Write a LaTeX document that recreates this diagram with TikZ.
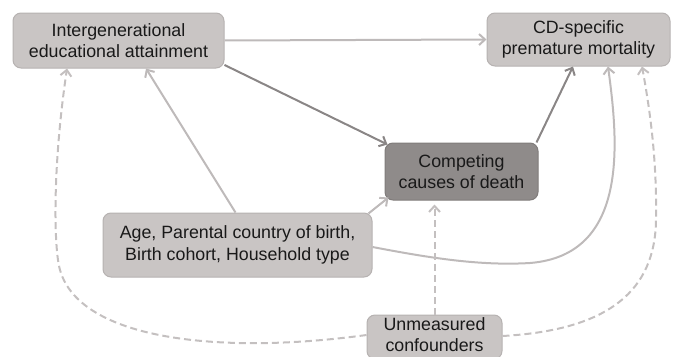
\documentclass[tikz,border=0pt]{standalone}
\usepackage{fontspec}
\setmainfont{Liberation Sans}
\usetikzlibrary{arrows.meta}
\definecolor{boxfill}{RGB}{201,197,196}
\definecolor{boxdraw}{RGB}{182,178,177}
\definecolor{darkfill}{RGB}{143,139,138}
\definecolor{darkdraw}{RGB}{128,124,123}
\definecolor{lightline}{RGB}{190,186,186}
\definecolor{darkline}{RGB}{138,134,134}
\definecolor{dashline}{RGB}{196,192,192}
\tikzset{
  box/.style={draw=boxdraw, fill=boxfill, line width=1pt, rounded corners=8pt,
    align=center, inner sep=0pt, text=black!90,
    font=\fontsize{17.8}{21.5}\selectfont},
  darkbox/.style={box, draw=darkdraw, fill=darkfill},
  tip/.style={-{Straight Barb[length=6pt,width=11pt,line width=2pt]}},
  lightarrow/.style={tip, draw=lightline, line width=2pt},
  darkarrow/.style={tip, draw=darkline, line width=2pt},
  dasharrow/.style={tip, draw=dashline, line width=2pt, dash pattern=on 7pt off 4pt},
}
\begin{document}
\begin{tikzpicture}[x=1pt,y=-1pt]
\useasboundingbox (0,0) rectangle (674,356);
\clip (0,0) rectangle (674,356);
\node[box, minimum width=211pt, minimum height=55pt] (A) at (118.5,40.5)
  {Intergenerational\\educational attainment};
\node[box, minimum width=183pt, minimum height=53pt] (B) at (578.5,39.5)
  {CD-specific\\premature mortality};
\node[darkbox, minimum width=153pt, minimum height=57pt] (C) at (461.5,171.5)
  {Competing\\causes of death};
\node[box, minimum width=269pt, minimum height=64pt] (D) at (237.5,245)
  {Age, Parental country of birth,\\Birth cohort, Household type};
\node[box, minimum width=135pt, minimum height=44pt] (E) at (434.5,337)
  {Unmeasured\\confounders\rule[-5pt]{0pt}{0pt}};

% solid connectors
\draw[lightarrow] (A.east) -- (B.west);
\draw[darkarrow] (A.-13.4) -- ([shift={(3,2)}]C.north west);
\draw[darkarrow] ([shift={(-2,0)}]C.north east) -- ([xshift=-5.5pt]B.south);
\draw[lightarrow] ([xshift=-2pt]D.north) -- ([xshift=27.5pt]A.south);
\draw[lightarrow] ([shift={(-4,1)}]D.north east) -- ([shift={(4,-3)}]C.south west);
\draw[lightarrow] ([yshift=-2pt]D.east) .. controls (430,258) and (480,266) .. (530,263)
  .. controls (630,255) and (618,140) .. ([xshift=29.5pt]B.south);

% dashed connectors
\draw[dasharrow] ([yshift=2pt]E.west) .. controls (220,355) and (80,340) .. (60,270)
  .. controls (54,250) and (52,170) .. ([xshift=-51.5pt]A.south);
\draw[dasharrow, shorten >=4pt] (E.north) -- (E.north |- C.south);
\draw[dasharrow] ([yshift=1pt]E.east) .. controls (610,330) and (655,290) .. (656,220)
  .. controls (657,160) and (650,110) .. ([xshift=63.5pt]B.south);
\end{tikzpicture}
\end{document}
